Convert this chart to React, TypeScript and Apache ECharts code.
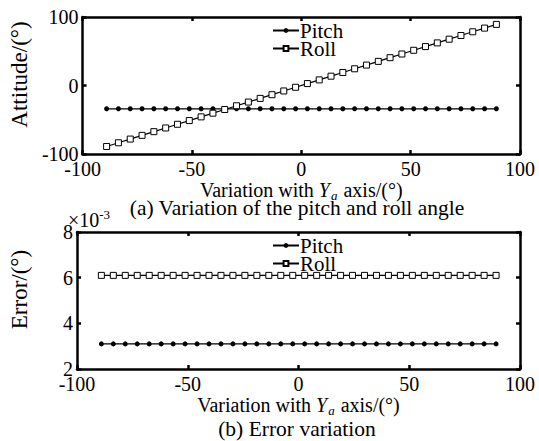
import React, { useEffect, useRef } from "react";
import * as echarts from "echarts";

const xValues = [-89, -83.6, -78.2, -72.8, -67.4, -62, -56.6, -51.2, -45.8, -40.4, -35, -29.6, -24.2, -18.8, -13.4, -8, -2.6, 2.8, 8.2, 13.6, 19, 24.4, 29.8, 35.2, 40.6, 46, 51.4, 56.8, 62.2, 67.6, 73, 78.4, 83.8, 89.2];
const pitchAttitude = [-34, -34, -34, -34, -34, -34, -34, -34, -34, -34, -34, -34, -34, -34, -34, -34, -34, -34, -34, -34, -34, -34, -34, -34, -34, -34, -34, -34, -34, -34, -34, -34, -34, -34];
const rollAttitude = [-89, -83.6, -78.2, -72.8, -67.4, -62, -56.6, -51.2, -45.8, -40.4, -35, -29.6, -24.2, -18.8, -13.4, -8, -2.6, 2.8, 8.2, 13.6, 19, 24.4, 29.8, 35.2, 40.6, 46, 51.4, 56.8, 62.2, 67.6, 73, 78.4, 83.8, 89.2];
const pitchError = [3.1, 3.1, 3.1, 3.1, 3.1, 3.1, 3.1, 3.1, 3.1, 3.1, 3.1, 3.1, 3.1, 3.1, 3.1, 3.1, 3.1, 3.1, 3.1, 3.1, 3.1, 3.1, 3.1, 3.1, 3.1, 3.1, 3.1, 3.1, 3.1, 3.1, 3.1, 3.1, 3.1, 3.1];
const rollError = [6.1, 6.1, 6.1, 6.1, 6.1, 6.1, 6.1, 6.1, 6.1, 6.1, 6.1, 6.1, 6.1, 6.1, 6.1, 6.1, 6.1, 6.1, 6.1, 6.1, 6.1, 6.1, 6.1, 6.1, 6.1, 6.1, 6.1, 6.1, 6.1, 6.1, 6.1, 6.1, 6.1, 6.1];
const seriesNames = ["Pitch", "Roll"];
const captions = ["(a) Variation of the pitch and roll angle", "(b) Error variation"];
const yNames = ["Attitude/(°)", "Error/(°)"];

const FONT = "'Liberation Serif', 'Times New Roman', serif";
const BLACK = "#000";

function zip(xs: number[], ys: number[]) {
  return xs.map((x, i) => [x, ys[i]]);
}

export default function App() {
  const ref = useRef<HTMLDivElement>(null);
  useEffect(() => {
    if (!ref.current) return;
    const chart = echarts.init(ref.current, undefined, { renderer: "svg" });

    const label = { fontFamily: FONT, fontSize: 20, color: BLACK };
    const xName = "{n|Variation with }{i|Y}{s|a}{n| axis/(°)}";
    const xNameStyle = {
      ...label,
      rich: {
        n: { fontFamily: FONT, fontSize: 20, color: BLACK, verticalAlign: "top", lineHeight: 20 },
        i: { fontFamily: FONT, fontSize: 20, color: BLACK, fontStyle: "italic", verticalAlign: "top", lineHeight: 20 },
        s: { fontFamily: FONT, fontSize: 13, color: BLACK, fontStyle: "italic", verticalAlign: "top", lineHeight: 12, padding: [9, 1, 0, 1] },
      },
    };
    const axisLine = { show: true, onZero: false, lineStyle: { color: BLACK, width: 2.5 } };
    const tick = { show: true, inside: true, length: 4, lineStyle: { color: BLACK, width: 2.5 } };

    const xAxisBase = (gridIndex: number, position: string, showLabel: boolean, withName: boolean) => ({
      type: "value",
      gridIndex,
      position,
      min: -100,
      max: 100,
      interval: 50,
      axisLine,
      axisTick: tick,
      splitLine: { show: false },
      axisLabel: { show: showLabel, ...label, margin: 5 },
      name: withName ? xName : "",
      nameLocation: "middle",
      nameGap: 25,
      nameTextStyle: xNameStyle,
    });

    const yAxisBase = (gridIndex: number, position: string, min: number, max: number, interval: number, showLabel: boolean, name: string) => ({
      type: "value",
      gridIndex,
      position,
      min,
      max,
      interval,
      axisLine,
      axisTick: tick,
      splitLine: { show: false },
      axisLabel: { show: showLabel, ...label, margin: 4 },
      name,
      nameLocation: "middle",
      nameGap: 46,
      nameRotate: 90,
      nameTextStyle: { fontFamily: FONT, fontSize: 23, color: BLACK, padding: [0, 0, 0, 22] },
    });

    const pitchStyle = {
      type: "line",
      symbol: "circle",
      symbolSize: 5,
      lineStyle: { color: BLACK, width: 1.2 },
      itemStyle: { color: BLACK },
    };
    const rollStyle = {
      type: "line",
      symbol: "rect",
      symbolSize: 6,
      lineStyle: { color: BLACK, width: 1.2 },
      itemStyle: { color: "#fff", borderColor: BLACK, borderWidth: 1 },
    };

    const legendBase = (top: number) => ({
      orient: "vertical",
      left: 272,
      top,
      itemWidth: 26,
      itemHeight: 6,
      itemGap: -3,
      padding: 0,
      data: seriesNames,
      textStyle: { fontFamily: FONT, fontSize: 21, color: BLACK, lineHeight: 16, padding: [0, 0, 0, -4] },
    });

    const option = {
      animation: false,
      backgroundColor: "#fff",
      grid: [
        { left: 74, top: 17, width: 446, height: 137 },
        { left: 74, top: 232, width: 446, height: 137 },
      ],
      legend: [legendBase(20), legendBase(235)],
      xAxis: [
        xAxisBase(0, "bottom", true, true),
        xAxisBase(0, "top", false, false),
        xAxisBase(1, "bottom", true, true),
        xAxisBase(1, "top", false, false),
      ],
      yAxis: [
        yAxisBase(0, "left", -100, 100, 100, true, yNames[0]),
        yAxisBase(0, "right", -100, 100, 100, false, ""),
        yAxisBase(1, "left", 2, 8, 2, true, yNames[1]),
        yAxisBase(1, "right", 2, 8, 2, false, ""),
      ],
      series: [
        { ...pitchStyle, name: seriesNames[0], xAxisIndex: 0, yAxisIndex: 0, data: zip(xValues, pitchAttitude) },
        { ...rollStyle, name: seriesNames[1], xAxisIndex: 0, yAxisIndex: 0, data: zip(xValues, rollAttitude) },
        { ...pitchStyle, name: seriesNames[0], xAxisIndex: 2, yAxisIndex: 2, data: zip(xValues, pitchError) },
        { ...rollStyle, name: seriesNames[1], xAxisIndex: 2, yAxisIndex: 2, data: zip(xValues, rollError) },
      ],
      graphic: [
        {
          type: "text",
          x: 297,
          y: 208,
          style: { text: captions[0], fontFamily: FONT, fontSize: 21.5, fill: BLACK, align: "center", verticalAlign: "middle" },
        },
        {
          type: "text",
          x: 297,
          y: 429,
          style: { text: captions[1], fontFamily: FONT, fontSize: 21.5, fill: BLACK, align: "center", verticalAlign: "middle" },
        },
        {
          type: "text",
          x: 68,
          y: 208,
          style: {
            text: "{m|×10}{e|-3}",
            fill: BLACK,
            rich: {
              m: { fontFamily: FONT, fontSize: 20, fill: BLACK, verticalAlign: "top", lineHeight: 20, padding: [2, 0, 0, 0] },
              e: { fontFamily: FONT, fontSize: 13, fill: BLACK, verticalAlign: "top", lineHeight: 13 },
            },
          },
        },
      ],
    };
    chart.setOption(option as any);
    return () => chart.dispose();
  }, []);
  return <div ref={ref} style={{ position: "absolute", left: 0, top: 0, width: 539, height: 441 }} />;
}
